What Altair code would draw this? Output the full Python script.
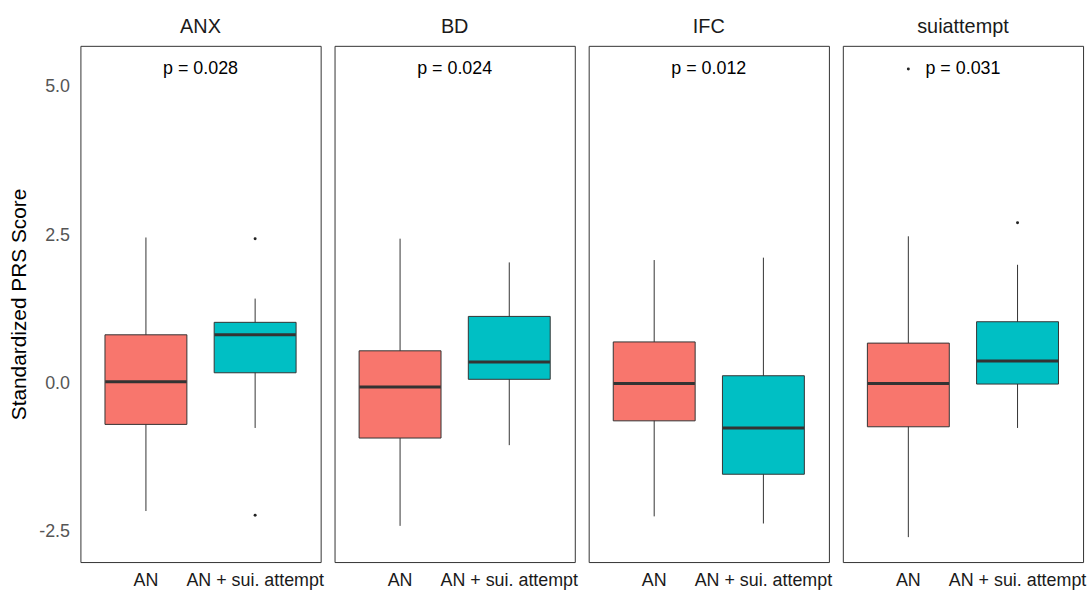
import altair as alt
import pandas as pd

# Summary statistics per trait panel and group (whisker ends, quartiles, median)
panels = ["ANX", "BD", "IFC", "suiattempt"]
groups = ["AN", "AN + sui. attempt"]
colors = ["#F8766D", "#00BFC4"]

lower = {"ANX": [-2.15, -0.75], "BD": [-2.40, -1.04], "IFC": [-2.24, -2.36], "suiattempt": [-2.59, -0.75]}
q1 = {"ANX": [-0.69, 0.18], "BD": [-0.92, 0.07], "IFC": [-0.63, -1.53], "suiattempt": [-0.73, -0.01]}
median = {"ANX": [0.03, 0.82], "BD": [-0.06, 0.36], "IFC": [0.00, -0.75], "suiattempt": [0.00, 0.38]}
q3 = {"ANX": [0.82, 1.03], "BD": [0.55, 1.13], "IFC": [0.70, 0.13], "suiattempt": [0.68, 1.04]}
upper = {"ANX": [2.46, 1.43], "BD": [2.44, 2.04], "IFC": [2.08, 2.12], "suiattempt": [2.48, 2.00]}

# Outlying observations: (panel, group, value)
outlier_panel = ["ANX", "ANX", "suiattempt", "suiattempt"]
outlier_group = ["AN + sui. attempt", "AN + sui. attempt", "AN", "AN + sui. attempt"]
outlier_value = [2.44, -2.22, 5.30, 2.71]

p_labels = {"ANX": "p = 0.028", "BD": "p = 0.024", "IFC": "p = 0.012", "suiattempt": "p = 0.031"}
p_y = 5.30

rows = []
for p in panels:
    for i, g in enumerate(groups):
        rows.append({"kind": "box", "panel": p, "group": g, "lo": lower[p][i], "q1": q1[p][i],
                     "med": median[p][i], "q3": q3[p][i], "hi": upper[p][i]})
for p, g, v in zip(outlier_panel, outlier_group, outlier_value):
    rows.append({"kind": "out", "panel": p, "group": g, "val": v})
for p in panels:
    rows.append({"kind": "p", "panel": p, "group": groups[0], "val": p_y, "label": p_labels[p]})
df = pd.DataFrame(rows)

FONT = "Liberation Sans"
W, H = 242, 520

x_enc = alt.X("group:N", sort=groups,
              scale=alt.Scale(domain=groups, paddingInner=0.25, paddingOuter=0.225),
              axis=alt.Axis(title=None, labelAngle=0, ticks=False, domain=False,
                            labelFontSize=18, labelColor="#1a1a1a", labelFont=FONT,
                            labelPadding=9))
y_scale = alt.Scale(domain=[-3.01, 5.69], nice=False, zero=False)
y_axis = alt.Axis(title="Standardized PRS Score", values=[-2.5, 0, 2.5, 5.0],
                  labelExpr="replace(format(datum.value, '.1f'), '\u2212', '-')",
                  ticks=False, domain=False, grid=False, labelFontSize=18,
                  labelColor="#555555", labelFont=FONT, labelPadding=10,
                  titleFontSize=21, titleFont=FONT, titleFontWeight="normal",
                  titleColor="#000000", titlePadding=9)
col_enc = alt.Color("group:N", scale=alt.Scale(domain=groups, range=colors), legend=None)

base = alt.Chart().encode(x=x_enc)

whisker = base.transform_filter(alt.datum.kind == "box").mark_rule(
    color="#333333", strokeWidth=1).encode(
    y=alt.Y("lo:Q", scale=y_scale, axis=y_axis), y2="hi:Q")

box = base.transform_filter(alt.datum.kind == "box").mark_bar(
    stroke="#333333", strokeWidth=1).encode(
    y=alt.Y("q1:Q", scale=y_scale, axis=y_axis), y2="q3:Q", color=col_enc)

med = base.transform_filter(alt.datum.kind == "box").mark_tick(
    color="#333333", thickness=3, size=82, opacity=1).encode(
    y=alt.Y("med:Q", scale=y_scale, axis=y_axis))

outl = base.transform_filter(alt.datum.kind == "out").mark_point(
    filled=True, color="#222222", size=9, opacity=1).encode(
    y=alt.Y("val:Q", scale=y_scale, axis=y_axis))

ptext = alt.Chart().transform_filter(alt.datum.kind == "p").mark_text(
    font=FONT, fontSize=18, color="#000000").encode(
    x=alt.value(W / 2), y=alt.Y("val:Q", scale=y_scale, axis=y_axis), text="label:N")

layered = alt.layer(whisker, box, med, outl, ptext).properties(width=W, height=H)

chart = layered.facet(
    data=df,
    column=alt.Column("panel:N", sort=panels,
                      header=alt.Header(title=None, labelFontSize=20, labelFont=FONT,
                                        labelColor="#1a1a1a", labelPadding=8)),
    spacing=12,
).properties(
    padding={"left": 8, "top": 15, "right": 5, "bottom": 2}
).configure_view(stroke="#333333", strokeWidth=1).configure_axis(grid=False)

chart.save("out.html", embed_options={"renderer": "svg", "actions": False})
